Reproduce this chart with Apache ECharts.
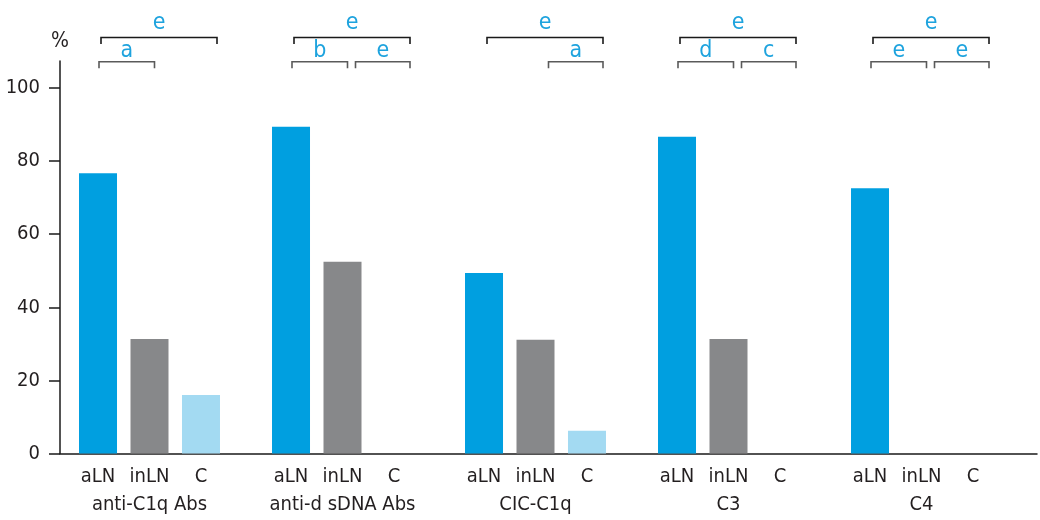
<!DOCTYPE html>
<html>
<head>
<meta charset="utf-8">
<script src="https://cdn.jsdelivr.net/npm/echarts@6/dist/echarts.min.js"></script>
<style>
  html, body { margin: 0; padding: 0; background: #fff; }
  #chart { width: 1040px; height: 520px; }
</style>
</head>
<body>
<div id="chart"></div>
<script>
// groups on the x axis
const groups = ['anti-C1q Abs', 'anti-d sDNA Abs', 'CIC-C1q', 'C3', 'C4'];
// % values per cohort
const aLN = [76.7, 89.4, 49.4, 86.7, 72.6];
const inLN = [31.3, 52.5, 31.1, 31.3, 0];
const ctrl = [16.0, 0, 6.2, 0, 0];
const yTicks = [0, 20, 40, 60, 80, 100];
// significance letters (null = no bracket)
const upperLetters = ['e', 'e', 'e', 'e', 'e'];
const lowerLeftLetters = ['a', 'b', null, 'd', 'e'];
const lowerRightLetters = [null, 'e', 'a', 'c', 'e'];

const FONT = "'DejaVu Sans Condensed', Roboto, sans-serif";
const TEXT = '#231f20';
const LETTER = '#1ea3de';
const Y_MAX = 107.4;
const BAR_W = 38;
const BAR_STEP = 51.5;

const chart = echarts.init(document.getElementById('chart'));

// bracket rows: [group, fromBar, toBar, level, letter]
const bracketData = [];
groups.forEach((g, i) => {
  if (upperLetters[i]) bracketData.push([i, 0, 2, 1, upperLetters[i]]);
  if (lowerLeftLetters[i]) bracketData.push([i, 0, 1, 0, lowerLeftLetters[i]]);
  if (lowerRightLetters[i]) bracketData.push([i, 1, 2, 0, lowerRightLetters[i]]);
});

function renderBracket(params, api) {
  const g = api.value(0), from = api.value(1), level = api.value(3);
  const letter = bracketData[params.dataIndex][4];
  const c = api.coord([g, Y_MAX]);
  const center = k => c[0] + (k - 1) * BAR_STEP;
  let x1, x2, y, color;
  if (level === 1) {
    x1 = center(0) + 3; x2 = center(2) + 16; y = c[1] - 23.5; color = '#1a1a1a';
  } else {
    y = c[1] + 0.7; color = '#5a5a5a';
    if (from === 0) { x1 = center(0) + 1; x2 = center(1) + 5; }
    else { x1 = center(1) + 13; x2 = center(2) + 16; }
  }
  const tick = 6.5;
  return {
    type: 'group',
    children: [
      {
        type: 'polyline',
        shape: { points: [[x1, y + tick], [x1, y], [x2, y], [x2, y + tick]] },
        style: { stroke: color, lineWidth: 1.6, fill: null }
      },
      {
        type: 'text',
        style: {
          text: letter, x: (x1 + x2) / 2, y: y - (level === 1 ? 14.5 : 10.5),
          align: 'center', verticalAlign: 'middle',
          fill: LETTER, font: '23px ' + FONT
        }
      }
    ]
  };
}

const barLabel = {
  show: true, position: 'bottom', distance: 13,
  formatter: p => p.seriesName, color: TEXT, fontSize: 20, fontFamily: FONT
};

chart.setOption({
  animation: false,
  textStyle: { fontFamily: FONT },
  grid: [
    { left: 60, right: 3, top: 61, bottom: 66.5 },
    { left: 53, width: 965, top: 61, bottom: 66.5 }
  ],
  xAxis: [
    {
      gridIndex: 0, type: 'value', min: 0, max: 1,
      axisLine: { show: true, lineStyle: { color: '#1a1a1a', width: 1.5 } },
      axisTick: { show: false }, axisLabel: { show: false }, splitLine: { show: false }
    },
    {
      gridIndex: 1, type: 'category', data: groups,
      axisLine: { show: false }, axisTick: { show: false },
      axisLabel: { color: TEXT, fontSize: 20, fontFamily: FONT, margin: 41 }
    }
  ],
  yAxis: [
    {
      gridIndex: 0, type: 'value', min: 0, max: Y_MAX,
      name: '%', nameLocation: 'end', nameGap: 9,
      nameTextStyle: { color: TEXT, fontSize: 21, fontFamily: FONT, align: 'center' },
      axisLine: { show: true, lineStyle: { color: '#1a1a1a', width: 1.5 } },
      axisTick: { show: true, length: 11, customValues: yTicks, lineStyle: { color: '#1a1a1a', width: 1.5 } },
      axisLabel: { customValues: yTicks, color: TEXT, fontSize: 20, fontFamily: FONT, margin: 20 },
      splitLine: { show: false }
    },
    {
      gridIndex: 1, type: 'value', min: 0, max: Y_MAX, show: false, splitLine: { show: false }
    }
  ],
  series: [
    {
      name: 'aLN', type: 'bar', xAxisIndex: 1, yAxisIndex: 1, data: aLN,
      barWidth: BAR_W, barGap: '35.5%', itemStyle: { color: '#009fe0' }, label: barLabel
    },
    {
      name: 'inLN', type: 'bar', xAxisIndex: 1, yAxisIndex: 1, data: inLN,
      barWidth: BAR_W, barGap: '35.5%', itemStyle: { color: '#87888a' }, label: barLabel
    },
    {
      name: 'C', type: 'bar', xAxisIndex: 1, yAxisIndex: 1, data: ctrl,
      barWidth: BAR_W, barGap: '35.5%', itemStyle: { color: '#a3daf2' }, label: barLabel
    },
    {
      type: 'custom', xAxisIndex: 1, yAxisIndex: 1, clip: false, silent: true,
      renderItem: renderBracket,
      data: bracketData.map(d => d.slice(0, 4))
    }
  ]
});
</script>
</body>
</html>
